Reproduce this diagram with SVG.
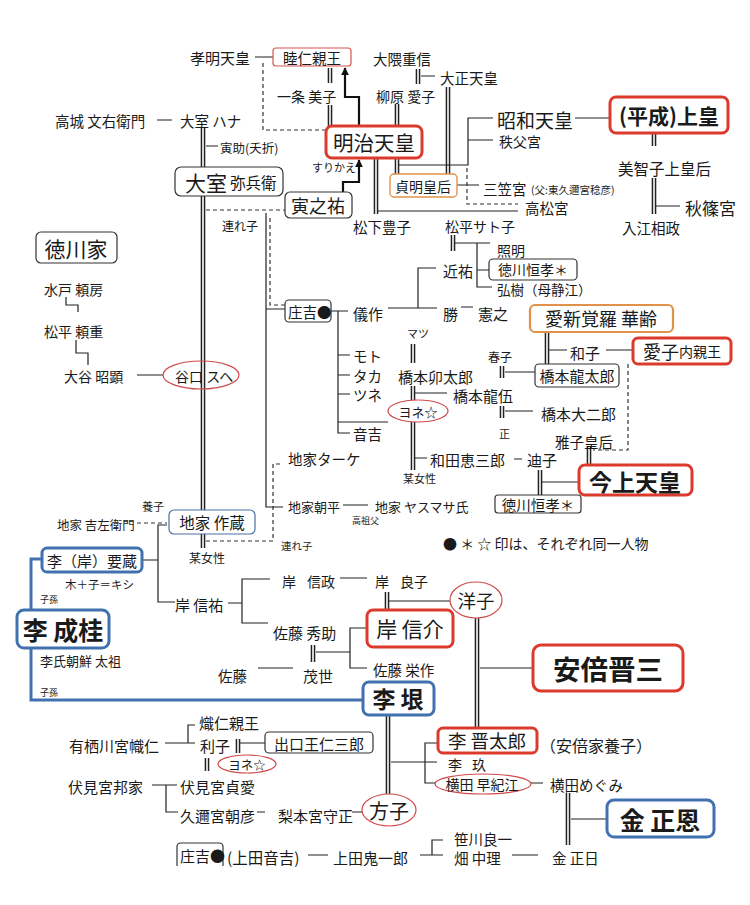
<svg xmlns="http://www.w3.org/2000/svg" width="750" height="905" viewBox="0 0 750 905" font-size="14.5">
<style>
.t{font-family:"Noto Sans CJK JP","Noto Sans",sans-serif;fill:#1a1a1a;dominant-baseline:central}
.c{text-anchor:middle}
.b{font-weight:bold}
.ln{fill:none;stroke:#222;stroke-width:1.2}
.ds{fill:none;stroke:#333;stroke-width:1.2;stroke-dasharray:4 3}
.ar{fill:none;stroke:#111;stroke-width:2.2;marker-end:url(#ah)}
.bx{fill:#fff;stroke:#333;stroke-width:1.2}
.rd{fill:#fff;stroke:#dd3a2e;stroke-width:3}
.rt{fill:#fff;stroke:#d9534f;stroke-width:1.2}
.or{fill:#fff;stroke:#e0924a;stroke-width:1.4}
.or2{fill:#fff;stroke:#e0924a;stroke-width:2.2}
.bl{fill:#fff;stroke:#4271b0;stroke-width:3}
.bg{fill:#fff;stroke:#4a6fa5;stroke-width:1.2}
.el{fill:#fff;stroke:#d04a4a;stroke-width:1.2}
.eln{fill:none;stroke:#d04a4a;stroke-width:1.2}
.blu{fill:none;stroke:#4271b0;stroke-width:3}
</style>
<defs>
<marker id="ah" viewBox="0 0 10 10" refX="9" refY="5" markerWidth="3.5" markerHeight="3.5" orient="auto"><path d="M0 0L10 5L0 10z" fill="#111"/></marker>
<g id="dbl"><path d="M330 68V83M330 105V126M418 69V84M397 104V126M397 158V174M448 87V174M376 158V214M203 128V167M203 196V510M203 534V548M453 235V251M413 344V363M413 386V400M413 422V470M547 332V364M502 366V378M502 406V418M589 447V465M540 470V495M654 133V146M654 178V214M387 592V610M477 618V728M313 645V662M388 715V794M238 739V753M207 758V771M568 793V845"/></g>
</defs>
<rect width="750" height="905" fill="#fff"/>
<g id="connectors">
<use href="#dbl" fill="none" stroke="#222" stroke-width="4.6"/>
<use href="#dbl" fill="none" stroke="#fff" stroke-width="1.6"/>
<path class="ln" d="M255 57H273M421 76H435M399 165H468V118H493M468 140H493M457 185H479M378 211H518M157 120H172M206 146H218"/>
<path class="ds" d="M263 63V130H326M467 168V204H518M206 210H285M270 218V305H285M206 541H273V464H283M137 523H167M628 364V450H593"/>
<path class="ar" d="M359 126V97H345V68"/>
<path class="ar" d="M343 192V182H359V160"/>
<path class="ln" d="M266 213V507H283M266 309H285M331 311H348M338 311V433H350M338 355H350M338 375H350M338 394H350M338 422H388M388 308H437M418 308V268H436M461 307H473M455 243H490M477 243V287H492M477 270H489M415 393H447M415 458H427M514 459H522M549 350H567M606 350H633M505 372H535M505 411H533M542 482H579M575 118H610M656 206H680M343 505H368M66 297V305H78V312M76 340V353H88V365M137 375H163"/>
<path class="ln" d="M167 525H158V602H175M142 560H158M228 603H242M270 579H242V623H268M340 578H367M389 601H450M316 652H350M367 628H350V668H367M258 668H293M480 668H533M391 762H437M440 743H425V783H435M531 783H543M571 819H607M420 855H443M432 855V840H443M512 855H538M308 855H328M165 743H195M195 725H188V743M240 743H265M152 785H177M166 785V812H178M257 812H265M352 812H362"/>
<path class="blu" d="M42 559H31V610M31 648V700H363"/>
</g>
<g id="n-komei"><text class="t" x="190" y="57" font-size="15">孝明天皇</text></g>
<g id="n-mutsuhito"><rect class="rt" x="273" y="48" width="78" height="18" rx="3"/><text class="t c" x="312" y="57">睦仁親王</text></g>
<g id="n-okuma"><text class="t" x="373" y="58">大隈重信</text></g>
<g id="n-taisho"><text class="t" x="440" y="77">大正天皇</text></g>
<g id="n-ichijo"><text class="t" x="277" y="96" font-size="14">一条 美子</text></g>
<g id="n-yanagihara"><text class="t" x="376" y="96" font-size="14">柳原 愛子</text></g>
<g id="n-meiji"><rect class="rd" x="326" y="126" width="96" height="32" rx="6"/><text class="t c" x="374" y="142" font-size="20.5">明治天皇</text></g>
<g id="n-surikae"><text class="t" x="312" y="167" font-size="11">すりかえ</text></g>
<g id="n-toranosuke"><rect class="bx" x="285" y="192" width="67" height="26" rx="5"/><text class="t c" x="318" y="205" font-size="18">寅之祐</text></g>
<g id="n-teimei"><rect class="or" x="390" y="174" width="67" height="23" rx="4"/><text class="t c" x="423" y="186" font-size="14">貞明皇后</text></g>
<g id="n-mikasa"><text class="t" x="483" y="188">三笠宮</text><text class="t" x="531" y="189" font-size="10.5">(父:東久邇宮稔彦)</text></g>
<g id="n-takamatsu"><text class="t" x="525" y="207">高松宮</text></g>
<g id="n-matsushita"><text class="t" x="353" y="226">松下豊子</text></g>
<g id="n-matsudaira-sato"><text class="t" x="445" y="226" font-size="14">松平サト子</text></g>
<g id="n-showa"><text class="t" x="497" y="119" font-size="19">昭和天皇</text></g>
<g id="n-chichibu"><text class="t" x="499" y="141" font-size="14">秩父宮</text></g>
<g id="n-heisei"><rect class="rd" x="610" y="97" width="118" height="36" rx="6"/><text class="t c b" x="669" y="115" font-size="21">(平成)上皇</text></g>
<g id="n-michiko"><text class="t" x="618" y="168" font-size="15.5">美智子上皇后</text></g>
<g id="n-akishino"><text class="t" x="685" y="207" font-size="17">秋篠宮</text></g>
<g id="n-irie"><text class="t" x="622" y="227">入江相政</text></g>
<g id="n-takagi"><text class="t" x="55" y="120">高城 文右衛門</text></g>
<g id="n-omuro-hana"><text class="t" x="180" y="120">大室 ハナ</text></g>
<g id="n-torasuke"><text class="t" x="220" y="147" font-size="12.5">寅助(夭折)</text></g>
<g id="n-omuro"><rect class="bx" x="175" y="167" width="108" height="29" rx="6"/><text class="t" x="185" y="182"><tspan font-size="21">大室</tspan><tspan font-size="15.5" dx="3">弥兵衛</tspan></text></g>
<g id="n-tokugawa-ke"><rect class="bx" x="36" y="232" width="81" height="31" rx="5" stroke-width="1.5"/><text class="t c" x="76" y="248" font-size="21">徳川家</text></g>
<g id="n-mito"><text class="t" x="44" y="289" font-size="14">水戸 頼房</text></g>
<g id="n-matsudaira"><text class="t" x="44" y="331" font-size="14">松平 頼重</text></g>
<g id="n-otani"><text class="t" x="64" y="376" font-size="14">大谷 昭顕</text></g>
<g id="n-taniguchi"><ellipse class="eln" cx="201" cy="375" rx="38" ry="14"/><text class="t" x="175" y="376" font-size="14">谷口 スヘ</text></g>
<g id="n-tsureko1"><text class="t" x="222" y="225" font-size="12">連れ子</text></g>
<g id="n-shokichi"><rect class="bx" x="285" y="300" width="46" height="22" rx="4"/><text class="t" x="288" y="311" font-size="14.5">庄吉●</text></g>
<g id="n-gisaku"><text class="t" x="353" y="313" font-size="15">儀作</text></g>
<g id="n-chikasuke"><text class="t" x="443" y="270" font-size="15">近祐</text></g>
<g id="n-teruaki"><text class="t" x="497" y="250" font-size="14">照明</text></g>
<g id="n-tokugawa-tsunenari1"><rect class="bx" x="489" y="259" width="88" height="21" rx="4"/><text class="t c" x="533" y="269" font-size="14">徳川恒孝＊</text></g>
<g id="n-hiroki"><text class="t" x="497" y="288.5" font-size="13.5">弘樹（母静江）</text></g>
<g id="n-katsu"><text class="t" x="443" y="313" font-size="15">勝</text><text class="t" x="478" y="313" font-size="15">憲之</text></g>
<g id="n-matsu"><text class="t" x="407" y="333" font-size="11">マツ</text></g>
<g id="n-moto"><text class="t" x="353" y="355">モト</text></g>
<g id="n-taka"><text class="t" x="353" y="375">タカ</text></g>
<g id="n-tsune"><text class="t" x="353" y="394">ツネ</text></g>
<g id="n-otokichi"><text class="t" x="353" y="433">音吉</text></g>
<g id="n-hashimoto-utaro"><text class="t" x="398" y="376" font-size="15">橋本卯太郎</text></g>
<g id="n-hashimoto-ryugo"><text class="t" x="453" y="395" font-size="15">橋本龍伍</text></g>
<g id="n-yone1"><ellipse class="el" cx="418" cy="411" rx="30" ry="11"/><text class="t c" x="418" y="411" font-size="13">ヨネ☆</text></g>
<g id="n-wada"><text class="t" x="430" y="459" font-size="15">和田恵三郎</text></g>
<g id="n-michiko2"><text class="t" x="527" y="459" font-size="15">迪子</text></g>
<g id="n-bojosei1"><text class="t" x="403" y="478" font-size="11">某女性</text></g>
<g id="n-jike-take"><text class="t" x="288" y="458">地家ターケ</text></g>
<g id="n-aishinkakura"><rect class="or2" x="530" y="305" width="143" height="27" rx="5"/><text class="t c" x="601" y="318" font-size="18">愛新覚羅 華齢</text></g>
<g id="n-kazuko"><text class="t" x="570" y="352" font-size="15">和子</text></g>
<g id="n-aiko"><rect class="rd" x="633" y="338" width="98" height="26" rx="5"/><text class="t c" x="682" y="351"><tspan font-size="18">愛子</tspan><tspan font-size="14">内親王</tspan></text></g>
<g id="n-hashimoto-ryutaro"><rect class="bx" x="535" y="364" width="84" height="23" rx="4"/><text class="t c" x="577" y="375" font-size="15">橋本龍太郎</text></g>
<g id="n-haruko"><text class="t" x="488" y="356" font-size="12">春子</text></g>
<g id="n-hashimoto-daijiro"><text class="t" x="541" y="413" font-size="15">橋本大二郎</text></g>
<g id="n-tadashi"><text class="t" x="499" y="433" font-size="11">正</text></g>
<g id="n-masako"><text class="t" x="555" y="441">雅子皇后</text></g>
<g id="n-kinjo"><rect class="rd" x="579" y="465" width="113" height="30" rx="6"/><text class="t c b" x="635" y="481" font-size="23">今上天皇</text></g>
<g id="n-tokugawa-tsunenari2"><rect class="bx" x="495" y="495" width="86" height="18" rx="3"/><text class="t c" x="538" y="504" font-size="14.5">徳川恒孝＊</text></g>
<g id="n-jike-asahira"><text class="t" x="288" y="506" font-size="13">地家朝平</text></g>
<g id="n-jike-yasumasa"><text class="t" x="375" y="506" font-size="13">地家 ヤスマサ氏</text><text class="t" x="352" y="520" font-size="9">高祖父</text></g>
<g id="legend"><text class="t" x="443" y="543" font-size="14">● ＊ ☆ 印は、それぞれ同一人物</text></g>
<g id="n-yoshi"><text class="t" x="142" y="506" font-size="11">養子</text></g>
<g id="n-jike-kichizaemon"><text class="t" x="57" y="524" font-size="12.5">地家 吉左衛門</text></g>
<g id="n-jike-sakuzo"><rect class="bg" x="169" y="510" width="86" height="24" rx="5"/><text class="t c" x="212" y="522" font-size="15.5">地家 作蔵</text></g>
<g id="n-tsureko2"><text class="t" x="281" y="545" font-size="10.5">連れ子</text></g>
<g id="n-bojosei2"><text class="t" x="189" y="557" font-size="12">某女性</text></g>
<g id="n-ri-yozo"><rect class="bl" x="42" y="548" width="100" height="24" rx="5"/><text class="t c" x="92" y="560" font-size="15">李（岸）要蔵</text></g>
<g id="n-kishi-note"><text class="t" x="65" y="584" font-size="11.5">木＋子＝キシ</text><text class="t" x="40" y="599" font-size="9">子孫</text></g>
<g id="n-ri-seikei"><rect class="bl" x="17" y="610" width="92" height="38" rx="7"/><text class="t c b" x="63" y="629" font-size="25">李 成桂</text><text class="t" x="40" y="660" font-size="13">李氏朝鮮 太祖</text><text class="t" x="40" y="692" font-size="9">子孫</text></g>
<g id="n-kishi-nobusuke-sofu"><text class="t" x="175" y="604" font-size="15">岸 信祐</text></g>
<g id="n-kishi-nobumasa"><text class="t" x="282" y="581" font-size="14">岸<tspan x="307">信政</tspan></text></g>
<g id="n-kishi-yoshiko"><text class="t" x="375" y="581" font-size="14">岸<tspan x="400">良子</tspan></text></g>
<g id="n-yoko"><ellipse class="el" cx="476" cy="600" rx="26" ry="18"/><text class="t c" x="476" y="600" font-size="18.5">洋子</text></g>
<g id="n-kishi-nobusuke"><rect class="rd" x="367" y="610" width="86" height="37" rx="6"/><text class="t c" x="410" y="628" font-size="21">岸 信介</text></g>
<g id="n-sato-hidesuke"><text class="t" x="273" y="632" font-size="15">佐藤 秀助</text></g>
<g id="n-sato-eisaku"><text class="t" x="373" y="669">佐藤 栄作</text></g>
<g id="n-sato"><text class="t" x="218" y="675">佐藤</text></g>
<g id="n-moyo"><text class="t" x="303" y="675" font-size="15">茂世</text></g>
<g id="n-ri-gin"><rect class="bl" x="363" y="682" width="71" height="33" rx="6"/><text class="t c b" x="398" y="698" font-size="23">李 垠</text></g>
<g id="n-abe"><rect class="rd" x="533" y="645" width="150" height="46" rx="8"/><text class="t c b" x="608" y="668" font-size="27.5">安倍晋三</text></g>
<g id="n-taruhito"><text class="t" x="199" y="722" font-size="15">熾仁親王</text></g>
<g id="n-arisugawa"><text class="t" x="69" y="745" font-size="15">有栖川宮幟仁</text></g>
<g id="n-toshiko"><text class="t" x="200" y="745" font-size="15">利子</text></g>
<g id="n-deguchi"><rect class="bx" x="265" y="732" width="108" height="21" rx="4"/><text class="t c" x="319" y="743" font-size="15">出口王仁三郎</text></g>
<g id="n-yone2"><ellipse class="el" cx="247" cy="764" rx="29" ry="9"/><text class="t c" x="247" y="764" font-size="12.5">ヨネ☆</text></g>
<g id="n-fushimi-kuniie"><text class="t" x="68" y="786" font-size="15">伏見宮邦家</text></g>
<g id="n-fushimi-sadanaru"><text class="t" x="180" y="786" font-size="15">伏見宮貞愛</text></g>
<g id="n-kuni-asahiko"><text class="t" x="180" y="815" font-size="15">久邇宮朝彦</text></g>
<g id="n-nashimoto"><text class="t" x="278" y="815" font-size="15">梨本宮守正</text></g>
<g id="n-masako2"><ellipse class="el" cx="389" cy="810" rx="27" ry="16"/><text class="t c" x="389" y="810" font-size="20">方子</text></g>
<g id="n-ri-shintaro"><rect class="rd" x="438" y="728" width="99" height="25" rx="5"/><text class="t c" x="487" y="740" font-size="18.5">李 晋太郎</text><text class="t" x="540" y="745" font-size="16">（安倍家養子）</text></g>
<g id="n-ri-kyu"><text class="t" x="448" y="764" font-size="14">李<tspan x="472">玖</tspan></text></g>
<g id="n-yokota-sakie"><ellipse class="el" cx="483" cy="784" rx="48" ry="10"/><text class="t c" x="482" y="784" font-size="14">横田 早紀江</text></g>
<g id="n-yokota-megumi"><text class="t" x="550" y="784">横田めぐみ</text></g>
<g id="n-kim-jongun"><rect class="bl" x="607" y="800" width="107" height="37" rx="7"/><text class="t c b" x="660" y="819" font-size="25">金 正恩</text></g>
<g id="n-sasakawa"><text class="t" x="454" y="838">笹川良一</text></g>
<g id="n-hata"><text class="t" x="454" y="857">畑 中理</text></g>
<g id="n-kim-jongil"><text class="t" x="552" y="857">金 正日</text></g>
<g id="n-ueda-onisaburo"><text class="t" x="333" y="857" font-size="15">上田鬼一郎</text></g>
<g id="n-shokichi2"><path class="bx" d="M177 866V847Q177 843 181 843H219Q223 843 223 847V866" fill="none"/><text class="t" x="180" y="855" font-size="15">庄吉●</text><text class="t" x="227" y="857" font-size="15.5">(上田音吉)</text></g>
</svg>
